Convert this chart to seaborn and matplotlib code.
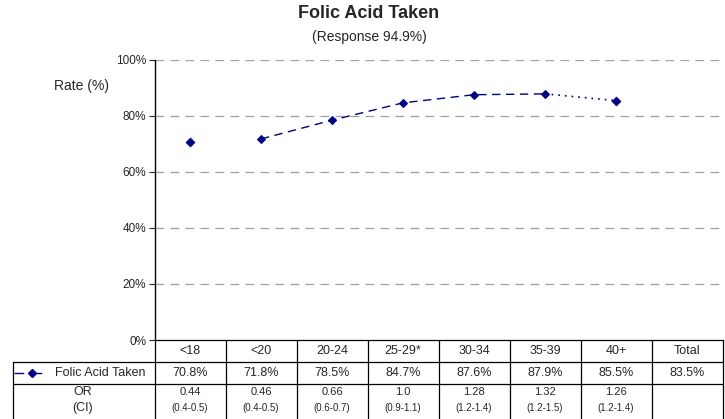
import pandas as pd
import seaborn as sns
import matplotlib.pyplot as plt
import matplotlib.transforms as mtransforms
from matplotlib.lines import Line2D

# data
categories = ['<18', '<20', '20-24', '25-29*', '30-34', '35-39', '40+', 'Total']
rate = [70.8, 71.8, 78.5, 84.7, 87.6, 87.9, 85.5, 83.5]
odds_ratio = ['0.44', '0.46', '0.66', '1.0', '1.28', '1.32', '1.26', '']
conf_int = ['(0.4-0.5)', '(0.4-0.5)', '(0.6-0.7)', '(0.9-1.1)',
            '(1.2-1.4)', '(1.2-1.5)', '(1.2-1.4)', '']
series_name = 'Folic Acid Taken'

sns.set_style('white')
plt.rcParams['font.family'] = ['Liberation Sans', 'DejaVu Sans']

df = pd.DataFrame({'cat': categories, 'rate': rate})
df['pos'] = range(len(df))
navy = '#000080'

W, H = 725, 419
fig = plt.figure(figsize=(W / 100, H / 100), dpi=100)
ax = fig.add_axes([154.5 / W, (H - 340) / H, 568 / W, 280 / H])

# plotted points: all age groups, not the total
pts = df[df['cat'] != 'Total']
sns.scatterplot(x='pos', y='rate', data=pts.iloc[[0]], marker='D', s=22,
                color=navy, edgecolor=navy, ax=ax, zorder=5)
sns.lineplot(x='pos', y='rate', data=pts.iloc[1:6], color=navy, lw=1,
             dashes=False, marker='D', markersize=4.5, markeredgecolor=navy,
             ax=ax, zorder=4).lines[-1].set_dashes((6, 4))
sns.lineplot(x='pos', y='rate', data=pts.iloc[5:7], color=navy, lw=1.2,
             ax=ax, zorder=3).lines[-1].set_linestyle((0, (1, 3)))
sns.scatterplot(x='pos', y='rate', data=pts.iloc[[6]], marker='D', s=22,
                color=navy, edgecolor=navy, ax=ax, zorder=5)

ax.set_xlim(-0.5, len(categories) - 0.5)
ax.set_ylim(0, 100)
ax.set_yticks([0, 20, 40, 60, 80, 100])
ax.set_yticklabels([f'{v}%' for v in range(0, 101, 20)], fontsize=8.5)
ax.set_xticks([])
ax.set_xlabel('')
ax.set_ylabel('')
for v in range(20, 101, 20):
    ax.axhline(v, color='#a0a0a0', lw=0.9, dashes=(7, 5), zorder=1)
for s in ['top', 'right', 'bottom']:
    ax.spines[s].set_visible(False)
ax.spines['left'].set_color('black')
ax.spines['left'].set_linewidth(1)
ax.tick_params(axis='y', direction='out', length=4, width=0.8, pad=2, left=True)

fig.text(82 / W, 1 - 86 / H, 'Rate (%)', ha='center', va='center', fontsize=10)
fig.text(369 / W, 1 - 14 / H, 'Folic Acid Taken', ha='center', va='center',
         fontsize=13, fontweight='bold')
fig.text(369 / W, 1 - 37 / H, '(Response 94.9%)', ha='center', va='center', fontsize=10)

# data table below the axis
tr = mtransforms.blended_transform_factory(ax.transData, fig.transFigure)
fy = lambda y: 1 - y / H
n = len(categories)
left_px = 13 / W
kw = dict(color='black', lw=0.9, clip_on=False)

fig.add_artist(Line2D([-0.5, n - 0.5], [fy(340), fy(340)], transform=tr, **kw))
for y in [361.5, 383.5]:
    fig.add_artist(Line2D([left_px, (154.5 + 568) / W], [fy(y), fy(y)],
                          transform=fig.transFigure, **kw))
for i in range(n + 1):
    fig.add_artist(Line2D([i - 0.5, i - 0.5], [fy(340), fy(419)], transform=tr, **kw))
fig.add_artist(Line2D([left_px, left_px], [fy(361.5), fy(419)],
                      transform=fig.transFigure, **kw))

for i, c in enumerate(categories):
    fig.text(i, fy(351), c, transform=tr, ha='center', va='center', fontsize=9)
    fig.text(i, fy(373), f'{rate[i]:.1f}%', transform=tr, ha='center',
             va='center', fontsize=9)
    fig.text(i, fy(392), odds_ratio[i], transform=tr, ha='center',
             va='center', fontsize=8)
    fig.text(i, fy(408), conf_int[i], transform=tr, ha='center',
             va='center', fontsize=7)

# legend key inside the row label
fig.add_artist(Line2D([14 / W, 48 / W], [fy(373), fy(373)], transform=fig.transFigure,
                      color=navy, lw=1, dashes=(7, 6)))
fig.add_artist(Line2D([32 / W], [fy(373)], transform=fig.transFigure, color=navy,
                      marker='D', markersize=4.5, lw=0))
fig.text(55 / W, fy(373), series_name, ha='left', va='center', fontsize=9)
fig.text(83 / W, fy(392), 'OR', ha='center', va='center', fontsize=9)
fig.text(83 / W, fy(408), '(CI)', ha='center', va='center', fontsize=9)

fig.savefig('out.png', dpi=100)
